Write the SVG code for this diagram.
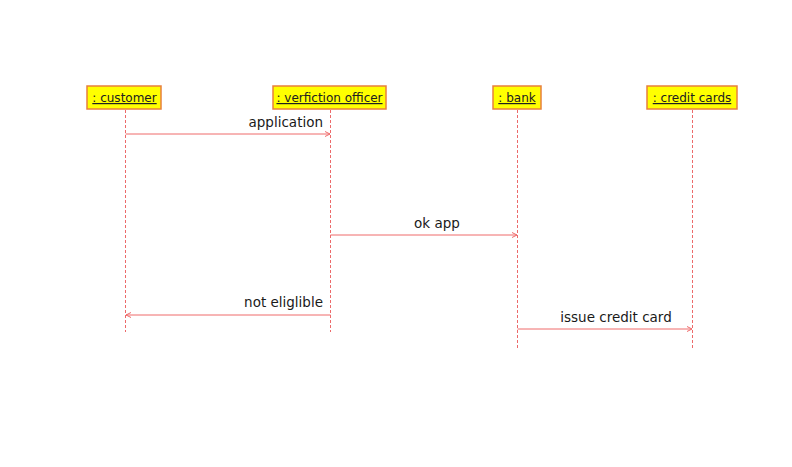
<svg xmlns="http://www.w3.org/2000/svg" width="792" height="467" viewBox="0 0 792 467">
<style>
.box{fill:#ffff00;stroke:#e8803c;stroke-width:1.5}
.lbl{font-family:"DejaVu Sans",Verdana,sans-serif;font-size:12px;fill:#202020;text-decoration:underline;text-anchor:middle}
.life{stroke:#ec6a6a;stroke-width:1;stroke-dasharray:3,2;fill:none}
.msg{stroke:#ef6b6b;stroke-width:1;fill:none}
.mtxt{font-family:"DejaVu Sans",Verdana,sans-serif;font-size:13.5px;fill:#1a1a1a}
</style>
<defs>
<marker id="arr" markerWidth="8" markerHeight="8" refX="7" refY="4" orient="auto" markerUnits="userSpaceOnUse">
<path d="M2,1.5 L7,4 L2,6.5" fill="none" stroke="#ef6b6b" stroke-width="1"/>
</marker>
</defs>
<rect width="792" height="467" fill="#ffffff"/>
<g id="customer">
<rect class="box" x="87" y="86" width="74" height="23"/>
<text class="lbl" x="124.5" y="102">: customer</text>
</g>
<g id="officer">
<rect class="box" x="273" y="86" width="113" height="23"/>
<text class="lbl" x="329.5" y="102">: verfiction officer</text>
</g>
<g id="bank">
<rect class="box" x="493" y="86" width="48" height="23"/>
<text class="lbl" x="517" y="102">: bank</text>
</g>
<g id="creditcards">
<rect class="box" x="647" y="86" width="90" height="23"/>
<text class="lbl" x="692" y="102">: credit cards</text>
</g>
<g id="connectors">
<line class="life" x1="125.5" y1="110" x2="125.5" y2="332"/>
<line class="life" x1="330.5" y1="110" x2="330.5" y2="332"/>
<line class="life" x1="517.5" y1="110" x2="517.5" y2="348"/>
<line class="life" x1="692.5" y1="110" x2="692.5" y2="348"/>
<line class="msg" x1="125.5" y1="134" x2="330" y2="134" marker-end="url(#arr)"/>
<text class="mtxt" x="323" y="127" text-anchor="end">application</text>
<line class="msg" x1="330.5" y1="235" x2="517" y2="235" marker-end="url(#arr)"/>
<text class="mtxt" x="437" y="228" text-anchor="middle">ok app</text>
<line class="msg" x1="330.5" y1="315" x2="126" y2="315" marker-end="url(#arr)"/>
<text class="mtxt" x="323" y="307" text-anchor="end">not eliglible</text>
<line class="msg" x1="517.5" y1="329" x2="692" y2="329" marker-end="url(#arr)"/>
<text class="mtxt" x="616" y="322" text-anchor="middle">issue credit card</text>
</g>
</svg>
